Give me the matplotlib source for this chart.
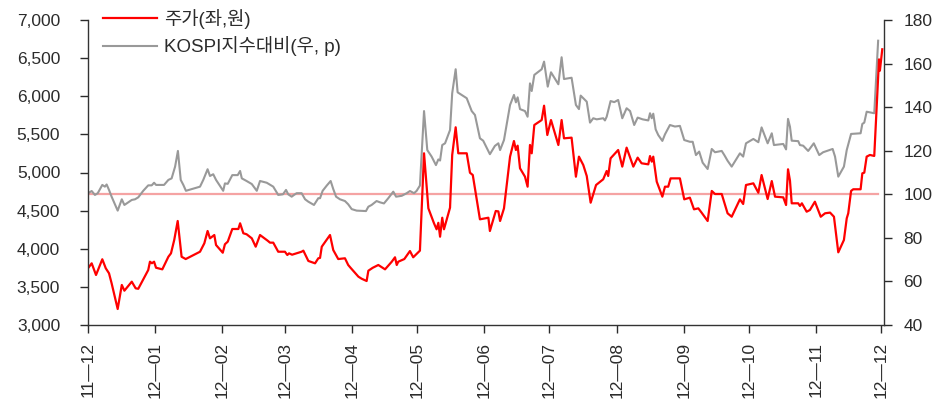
import datetime as dt

import numpy as np
import matplotlib
matplotlib.use('Agg')
import matplotlib.pyplot as plt
import matplotlib.dates as mdates
from matplotlib.ticker import FuncFormatter, MultipleLocator

plt.rcParams['font.family'] = ['Liberation Sans', 'Noto Sans CJK KR', 'DejaVu Sans']

start = dt.datetime(2011, 12, 1)

# stock price (left axis, won); x = days since 2011-12-01
price_days = [0, 1.7, 3.7, 6.6, 8.2, 9.7, 10.9, 13.7, 15.6, 16.8, 20.2, 22.0, 23.2,
              27.8, 28.6, 29.5, 30.5, 31.4, 34.3, 37.1, 38.3, 39.8, 41.4, 43.2, 45.1,
              51.7, 53.7, 55.2, 56.3, 58.3, 59.1, 62.2, 63.2, 64.5, 66.6, 69.4, 70.2,
              71.7, 73.2, 75.6, 77.4, 79.4, 82.9, 84.0, 85.5, 87.8, 90.9, 92.0, 92.8,
              94.2, 98.6, 99.4, 101.7, 104.8, 106.3, 107.1, 107.9, 111.7, 113.2, 115.5,
              118.6, 120.1, 121.2, 124.8, 126.3, 128.6, 129.4, 131.4, 134.0, 137.1,
              140.2, 141.7, 142.5, 143.2, 146.0, 148.6, 150.1, 153.2, 155.1, 157.1,
              159.7, 160.9, 161.7, 162.5, 163.5, 164.3, 167.1, 168.1, 169.7, 170.9,
              174.8, 176.3, 177.6, 180.9, 184.8, 185.5, 188.2, 189.4, 190.2, 192.0,
              194.8, 196.6, 197.5, 198.3, 199.4, 201.7, 202.9, 204.0, 204.8, 206.0,
              209.4, 210.5, 212.0, 213.7, 217.1, 218.6, 219.7, 223.2, 225.2, 226.6,
              228.6, 230.2, 232.0, 234.5, 237.8, 239.4, 240.1, 241.2, 244.7, 246.6,
              248.6, 251.7, 253.7, 255.5, 258.6, 259.4, 260.2, 260.9, 262.5, 265.1,
              266.3, 267.8, 268.9, 273.2, 275.2, 277.8, 279.7, 281.7, 283.2, 286.0,
              287.9, 289.4, 292.5, 295.2, 297.1, 300.9, 302.4, 303.7, 307.1, 309.4,
              310.9, 313.7, 315.6, 317.1, 320.9, 322.2, 323.1, 324.0, 324.8, 327.8,
              328.6, 329.5, 331.7, 333.2, 335.5, 338.2, 340.2, 342.5, 344.3, 346.3,
              348.9, 350.2, 350.9, 352.2, 353.2, 356.6, 357.4, 358.3, 359.4, 360.9,
              362.9, 365.1, 365.5, 366.6]
price = [3744, 3809, 3656, 3862, 3744, 3678, 3547, 3210, 3525, 3450, 3568, 3481, 3475,
         3721, 3830, 3810, 3830, 3751, 3730, 3895, 3940, 4115, 4364, 3895, 3865,
         3961, 4072, 4233, 4137, 4180, 4049, 3948, 4059, 4093, 4259, 4259, 4334,
         4203, 4190, 4137, 4027, 4180, 4106, 4080, 4080, 3961, 3961, 3918, 3940,
         3922, 3961, 3975, 3840, 3809, 3875, 3880, 4027, 4180, 3983, 3865,
         3875, 3787, 3750, 3634, 3607, 3577, 3712, 3750, 3787, 3730,
         3830, 3888, 3787, 3830, 3865, 3970, 3888, 3975, 5252, 4530,
         4334, 4255, 4340, 4158, 4407, 4255, 4539, 5230, 5593, 5252,
         5252, 4997, 4967, 4386, 4407, 4233, 4495, 4490, 4364, 4530,
         5208, 5413, 5295, 5352, 5055, 4945, 4814, 5361, 5252, 5623,
         5688, 5876, 5492, 5688, 5361, 5688, 5448, 5457, 4945, 5208,
         5098, 4954, 4604, 4836, 4911, 5020, 4954, 5186, 5295, 5077,
         5326, 5077, 5195, 5121, 5107, 5216, 5142, 5208, 4880, 4683,
         4814, 4814, 4923, 4923, 4648, 4670, 4517, 4530, 4474, 4364,
         4758, 4718, 4718, 4465, 4420, 4648, 4587, 4836, 4858, 4735,
         4967, 4652, 4888, 4683, 4674, 4574, 5042, 4893, 4596, 4596,
         4561, 4596, 4486, 4508, 4617, 4420, 4465, 4474, 4420, 3953,
         4115, 4399, 4465, 4758, 4780, 4780, 4989, 4998, 5208, 5230,
         5217, 6484, 6335, 6616]

# relative to KOSPI (right axis, p)
rel_days = [0, 1.7, 3.2, 4.5, 6.6, 7.8, 8.6, 9.7, 10.9, 13.7, 15.6, 16.8, 20.2, 21.7,
            23.2, 25.5, 27.8, 29.4, 30.5, 31.4, 35.1, 37.1, 38.6, 40.2, 41.5, 42.8,
            44.0, 45.2, 51.7, 53.2, 55.2, 56.3, 57.8, 59.1, 62.4, 63.2, 64.5, 66.6,
            69.1, 70.2, 71.0, 73.2, 75.6, 77.9, 79.4, 82.5, 85.5, 87.8, 90.0, 91.4,
            92.4, 94.0, 95.1, 96.3, 98.6, 100.2, 101.7, 104.3, 106.3, 107.1, 108.3,
            110.2, 112.0, 113.2, 114.5, 116.3, 118.6, 120.1, 121.7, 124.0, 128.3,
            129.4, 130.9, 133.2, 134.8, 136.6, 138.6, 140.9, 142.2, 144.8, 147.1,
            148.6, 150.5, 151.7, 153.2, 155.1, 156.6, 158.6, 160.6, 161.7, 162.5,
            163.5, 164.8, 167.1, 168.1, 169.7, 170.6, 174.8, 177.1, 178.6, 180.9,
            182.4, 185.5, 187.8, 189.4, 190.2, 192.0, 194.8, 196.6, 197.5, 198.3,
            199.4, 201.7, 202.9, 204.0, 204.8, 206.0, 209.4, 210.5, 212.2, 213.7,
            217.1, 218.6, 219.7, 223.2, 225.2, 226.6, 227.4, 230.2, 231.7, 233.2,
            234.8, 237.8, 238.6, 239.4, 241.2, 242.9, 244.7, 246.6, 248.6, 250.2,
            252.1, 253.7, 256.0, 258.6, 259.4, 260.2, 260.9, 262.0, 263.2, 265.1,
            266.3, 268.6, 270.9, 273.2, 275.2, 277.8, 279.1, 280.6, 282.1, 283.7,
            286.0, 287.9, 289.4, 292.5, 293.7, 295.2, 297.1, 300.9, 302.4, 303.7,
            307.1, 309.4, 310.9, 313.7, 315.6, 316.6, 320.9, 322.2, 323.1, 324.0,
            324.8, 327.8, 328.6, 330.1, 332.4, 335.0, 337.5, 339.3, 343.7, 344.8,
            346.3, 348.9, 350.2, 352.2, 356.6, 357.4, 358.3, 359.4, 362.9, 364.7]
rel = [100.5, 101.5, 99.7, 100.5, 104.3, 103.5, 104.5, 102.0, 98.9, 92.5, 97.7, 95.1, 97.4, 97.7,
       98.6, 101.6, 104.1, 104.1, 105.3, 104.3, 104.3, 106.6, 107.3, 112.7, 119.9, 106.6,
       104.3, 101.6, 103.5, 106.6, 111.5, 108.4, 109.2, 106.6, 101.6, 105.0, 104.8, 108.8,
       108.8, 110.7, 107.3, 106.1, 104.7, 101.6, 106.1, 105.3, 103.5, 99.7, 100.0, 102.0,
       100.0, 98.9, 99.7, 100.5, 100.5, 97.7, 96.6, 95.1, 98.2, 98.2, 101.6,
       104.0, 106.1, 102.4, 98.9, 97.7, 96.9, 95.4, 93.2, 92.5, 92.3,
       94.3, 95.1, 96.9, 96.3, 95.8, 98.2, 101.2, 98.9, 99.3, 100.5,
       101.5, 100.5, 101.6, 104.0, 138.2, 120.3, 117.3, 113.4, 116.0, 115.5,
       122.6, 123.4, 129.5, 146.4, 157.4, 146.8, 144.1, 138.2, 136.4, 125.7,
       124.6, 118.4, 122.2, 123.4, 120.3, 124.9, 141.0, 145.6, 142.2, 144.5,
       139.1, 138.2, 135.6, 150.9, 147.4, 154.8, 157.4, 160.9, 149.4, 156.0,
       150.5, 162.9, 152.9, 153.5, 141.0, 139.1, 145.3, 142.5, 132.9, 134.9,
       134.4, 134.9, 133.9, 135.6, 142.8, 142.3, 143.3, 134.9, 139.5, 138.2,
       131.8, 135.2, 134.4, 133.9, 137.2, 134.9, 137.0, 129.8, 127.2, 124.5,
       127.5, 131.8, 131.1, 131.4, 124.9, 124.1, 124.1, 118.0, 119.6, 114.5,
       111.6, 120.8, 119.3, 119.9, 118.0, 115.4, 112.7, 118.8, 117.3, 123.4,
       125.4, 123.9, 130.7, 123.4, 128.0, 122.6, 123.1, 120.6, 134.6, 131.0,
       124.6, 124.4, 122.6, 122.3, 119.9, 123.4, 118.0, 119.3, 120.8, 117.3,
       108.1, 112.7, 120.3, 127.7, 128.0, 132.3, 132.9, 137.9, 137.2, 170.5]

base_level = 100
price_label = '주가(좌,원)'
rel_label = 'KOSPI지수대비(우, p)'

t0 = mdates.date2num(start)
px = t0 + np.array(price_days)
rx = t0 + np.array(rel_days)

fig = plt.figure(figsize=(9.48, 4.0), dpi=100)
ax1 = fig.add_axes([88 / 948, 1 - 325 / 400, (884 - 88) / 948, 305 / 400])
ax2 = ax1.twinx()
ax1.set_zorder(ax2.get_zorder() + 1)
ax1.patch.set_visible(False)

ax2.plot([rx[0], rx[-1]], [base_level, base_level], color='#F5A3A3', lw=1.6)
l2, = ax2.plot(rx, rel, color='#999999', lw=1.5, label=rel_label)
l1, = ax1.plot(px, price, color='#FF0000', lw=1.6, label=price_label)

ax1.set_ylim(3000, 7000)
ax1.yaxis.set_major_locator(MultipleLocator(500))
ax1.yaxis.set_major_formatter(FuncFormatter(lambda v, p: f'{v:,.0f}'))
ax2.set_ylim(40, 180)
ax2.yaxis.set_major_locator(MultipleLocator(20))

ax1.set_xlim(t0, t0 + 367.4)
ax1.xaxis.set_major_locator(mdates.MonthLocator())
ax1.xaxis.set_major_formatter(mdates.DateFormatter('%y—%m'))

txt = '#2b2b2b'
for a in (ax1, ax2):
    a.spines['top'].set_visible(False)
    for s in ('left', 'right', 'bottom'):
        a.spines[s].set_color('#333333')
        a.spines[s].set_linewidth(1.0)
ax1.spines['right'].set_visible(False)
ax2.spines['left'].set_visible(False)
ax2.spines['bottom'].set_visible(False)

ax1.tick_params(axis='y', direction='out', length=6, width=1, pad=14,
                labelsize=12.5, colors=txt)
ax2.tick_params(axis='y', direction='out', length=6, width=1, pad=8,
                labelsize=12.5, colors=txt)
ax1.tick_params(axis='x', direction='out', length=6, width=1, pad=6,
                labelsize=12.5, colors=txt, labelrotation=90)

fig.legend(handles=[l1, l2], loc='upper left', bbox_to_anchor=(103 / 948, 0.978),
           frameon=False, fontsize=13.5, handlelength=2.9, handletextpad=0.35,
           labelspacing=0.39, borderpad=0, borderaxespad=0, labelcolor=txt)

fig.savefig('out.png', dpi=100)
